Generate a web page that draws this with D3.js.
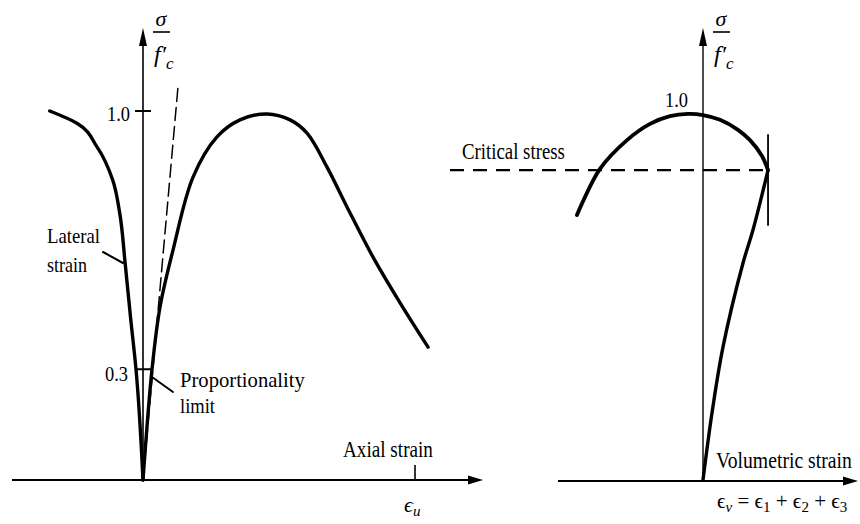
<!DOCTYPE html>
<html>
<head>
<meta charset="utf-8">
<script src="https://cdn.jsdelivr.net/npm/d3@7"></script>
<style>
  body { margin: 0; background: #fff; }
  svg text { font-family: "Liberation Serif", "DejaVu Serif", serif; fill: #000; }
</style>
</head>
<body>
<div id="chart-area"></div>
<script>
const W = 860, H = 524;

// left chart: stress ratio vs strain (strain units, eps_u = 3.5)
const lateralStrain = [-1.20, -0.85, -0.59, -0.39, -0.30, -0.23, -0.16, -0.09, 0];
const lateralStress = [1.00, 0.967, 0.902, 0.813, 0.724, 0.588, 0.440, 0.30, 0];
const axialStrain = [0, 0.116, 0.219, 0.386, 0.644, 0.952, 1.248, 1.596, 1.892, 2.111, 2.368, 2.625, 2.960, 3.308, 3.668];
const axialStress = [0, 0.30, 0.469, 0.623, 0.821, 0.930, 0.976, 0.992, 0.976, 0.940, 0.848, 0.740, 0.604, 0.480, 0.360];
const tangentStrain = [0, 0.45];
const tangentStress = [0, 1.065];
const propLimit = 0.3;
const ultimateStrain = 3.5;
const leftTicks = [1.0, 0.3];

// right chart: stress ratio vs volumetric strain
const volRiseStrain = [0, 0.116, 0.257, 0.515, 0.644, 0.837];
const volRiseStress = [0, 0.182, 0.360, 0.588, 0.678, 0.840];
const volCapStrain = [0.837, 0.759, 0.605, 0.450, 0.219, 0, -0.193, -0.425, -0.682, -0.978, -1.326, -1.622];
const volCapStress = [0.840, 0.878, 0.921, 0.949, 0.976, 0.989, 0.992, 0.986, 0.965, 0.921, 0.843, 0.718];
const criticalStress = 0.84;
const maxVolStrain = 0.837;
const rightTicks = [1.0];

const svg = d3.select("#chart-area").append("svg").attr("width", W).attr("height", H);

const y = d3.scaleLinear().domain([0, 1]).range([480, 111]);
const xL = d3.scaleLinear().domain([0, ultimateStrain]).range([143, 415]);
const xR = d3.scaleLinear().domain([0, 1]).range([703, 780.7]);

const line = (xs, c) => d3.line().x(d => xs(d[0])).y(d => y(d[1])).curve(c || d3.curveCatmullRom.alpha(0.5));
const zip = (a, b) => a.map((v, i) => [v, b[i]]);

// ---- axes ----
const axes = svg.append("g").attr("stroke", "#000").attr("fill", "none");
// left
axes.append("line").attr("x1", xL(0)).attr("x2", xL(0)).attr("y1", y(0)).attr("y2", 40).attr("stroke-width", 1.6);
axes.append("line").attr("x1", 12).attr("x2", 472).attr("y1", y(0)).attr("y2", y(0)).attr("stroke-width", 2);
// right
axes.append("line").attr("x1", xR(0)).attr("x2", xR(0)).attr("y1", y(0)).attr("y2", 40).attr("stroke-width", 1.4);
axes.append("line").attr("x1", 558).attr("x2", 848).attr("y1", y(0) + 1).attr("y2", y(0) + 1).attr("stroke-width", 2);

const heads = svg.append("g").attr("fill", "#000");
function arrowUp(x, tip) {
  heads.append("path").attr("d", `M${x},${tip} L${x - 4},${tip + 18} L${x + 4},${tip + 18} Z`);
}
function arrowRight(tip, yy) {
  heads.append("path").attr("d", `M${tip},${yy} L${tip - 15},${yy - 4.5} L${tip - 15},${yy + 4.5} Z`);
}
arrowUp(xL(0), 28);
arrowUp(xR(0), 28);
arrowRight(483, y(0));
arrowRight(858, y(0) + 1);

// ticks
axes.append("line").attr("x1", xL(0) - 8).attr("x2", xL(0) + 8).attr("y1", y(leftTicks[0])).attr("y2", y(leftTicks[0])).attr("stroke-width", 2);
axes.append("line").attr("x1", xL(ultimateStrain)).attr("x2", xL(ultimateStrain))
  .attr("y1", y(0) - 15).attr("y2", y(0)).attr("stroke-width", 1.6);

// ---- curves ----
const curves = svg.append("g").attr("fill", "none").attr("stroke", "#000").attr("stroke-linecap", "round");
curves.append("path").attr("d", line(xL, d3.curveMonotoneY)(zip(lateralStrain, lateralStress))).attr("stroke-width", 3.4);
curves.append("path").attr("d", line(xL)(zip(axialStrain, axialStress))).attr("stroke-width", 3.4);
curves.append("path").attr("d", line(xL, d3.curveLinear)(zip(tangentStrain, tangentStress)))
  .attr("stroke-width", 1.5).attr("stroke-dasharray", "13,6");

// proportionality limit segment
const latP = lateralStrain[lateralStress.indexOf(propLimit)];
const axP = axialStrain[axialStress.indexOf(propLimit)];
curves.append("line").attr("x1", xL(latP)).attr("x2", xL(axP)).attr("y1", y(propLimit)).attr("y2", y(propLimit)).attr("stroke-width", 2);

curves.append("path").attr("d", line(xR)(zip(volRiseStrain, volRiseStress))).attr("stroke-width", 3.4);
curves.append("path").attr("d", line(xR)(zip(volCapStrain, volCapStress))).attr("stroke-width", 3.8);
curves.append("line").attr("x1", xR(maxVolStrain)).attr("x2", xR(maxVolStrain))
  .attr("y1", y(0.935)).attr("y2", y(0.691)).attr("stroke-width", 1.8);
curves.append("line").attr("x1", 450).attr("x2", xR(maxVolStrain)).attr("y1", y(criticalStress)).attr("y2", y(criticalStress))
  .attr("stroke-width", 2.2).attr("stroke-dasharray", "14,9").attr("stroke-linecap", "butt");

// leader lines
curves.append("line").attr("x1", 103).attr("y1", 252).attr("x2", 123).attr("y2", 263).attr("stroke-width", 2);
curves.append("line").attr("x1", 152).attr("y1", 377).attr("x2", 173).attr("y2", 392).attr("stroke-width", 2);

// ---- text ----
// condensed serif text: measure natural width, then squeeze horizontally to fit
function label(txt, x, yy, size, len) {
  const t = svg.append("text").attr("x", 0).attr("y", 0).attr("font-size", size + "px").text(txt);
  const w = t.node().getComputedTextLength();
  t.attr("transform", `translate(${x},${yy}) scale(${(len / w).toFixed(3)},1)`);
  return t;
}
label(d3.format(".1f")(leftTicks[0]), 107, 121, 22, 23);
label(d3.format(".1f")(leftTicks[1]), 105, 381, 21, 23);
label(d3.format(".1f")(rightTicks[0]), 665, 107, 22, 23);
label("Lateral", 47, 243, 22, 53);
label("strain", 47, 272, 22, 40);
label("Proportionality", 180, 387, 22, 125);
label("limit", 180, 413, 22, 35);
label("Axial strain", 343, 457, 23, 90);
label("Critical stress", 462, 159, 23, 103);
label("Volumetric strain", 716, 468, 23, 136);

// sigma / f'c labels
function stressLabel(x0) {
  svg.append("text").attr("x", x0 + 8).attr("y", 26).attr("font-size", "22px").attr("font-style", "italic")
    .attr("text-anchor", "middle").text("σ");
  svg.append("line").attr("x1", x0).attr("x2", x0 + 17).attr("y1", 32).attr("y2", 32).attr("stroke", "#000").attr("stroke-width", 1.6);
  const f = svg.append("text").attr("x", x0 + 1).attr("y", 62).attr("font-size", "24px").attr("font-style", "italic");
  f.append("tspan").text("f′");
  f.append("tspan").attr("dy", 7).attr("font-size", "17px").text("c");
}
stressLabel(153);
stressLabel(713);

// eps_u
const eu = svg.append("text").attr("x", 404).attr("y", 512).attr("font-size", "22px");
eu.append("tspan").attr("font-style", "italic").text("ϵ");
eu.append("tspan").attr("dy", 4).attr("font-size", "15px").attr("font-style", "italic").text("u");

// volumetric strain formula
const fm = svg.append("text").attr("x", 717).attr("y", 508).attr("font-size", "21px");
const parts = [["ϵ", "v"], [" = ϵ", "1"], [" + ϵ", "2"], [" + ϵ", "3"]];
parts.forEach((p, i) => {
  fm.append("tspan").attr("dy", i === 0 ? 0 : -4).text(p[0]);
  fm.append("tspan").attr("dy", 4).attr("font-size", "15px").attr("font-style", i === 0 ? "italic" : "normal").text(p[1]);
});
</script>
</body>
</html>
